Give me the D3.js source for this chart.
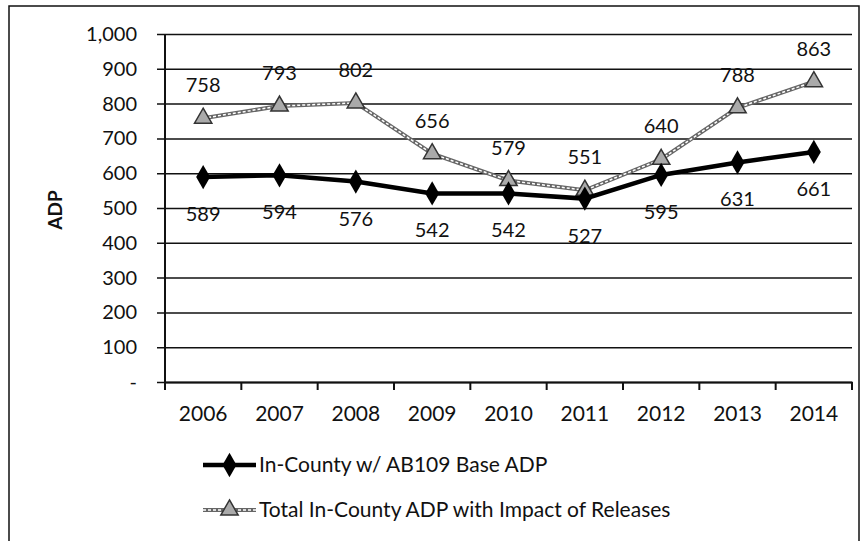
<!DOCTYPE html>
<html lang="en">
<head>
    <meta charset="utf-8">
    <title>ADP</title>
    <script src="https://d3js.org/d3.v7.min.js"></script>
    <style>
        body { margin: 0; background: #fff; }
        text { font-family: Lato, "Open Sans", sans-serif; fill: #111; }
    </style>
</head>
<body>
    <div id="chart"></div>
    <script>
        const years = ["2006", "2007", "2008", "2009", "2010", "2011", "2012", "2013", "2014"];
        const baseADP = [589, 594, 576, 542, 542, 527, 595, 631, 661];
        const totalADP = [758, 793, 802, 656, 579, 551, 640, 788, 863];
        const yTicks = [0, 100, 200, 300, 400, 500, 600, 700, 800, 900, 1000];
        const seriesNames = ["In-County w/ AB109 Base ADP", "Total In-County ADP with Impact of Releases"];

        const w = 867;
        const h = 541;
        const plot = { left: 165, right: 852, top: 34, bottom: 382 };

        const svg = d3.select("#chart").append("svg")
            .attr("width", w)
            .attr("height", h);

        // outer frame
        svg.append("rect")
            .attr("x", 9).attr("y", 6)
            .attr("width", 850).attr("height", 545)
            .attr("fill", "none")
            .attr("stroke", "#111")
            .attr("stroke-width", 1.5);

        const xScale = d3.scaleBand()
            .domain(years)
            .range([plot.left, plot.right]);

        const yScale = d3.scaleLinear()
            .domain([0, 1000])
            .range([plot.bottom, plot.top]);

        const cx = d => xScale(d) + xScale.bandwidth() / 2;

        // gridlines + y axis
        const yAxis = d3.axisLeft(yScale)
            .tickValues(yTicks)
            .tickSize(-(plot.right - plot.left))
            .tickPadding(28)
            .tickFormat(d => d === 0 ? "-" : d3.format(",")(d));

        const yg = svg.append("g")
            .attr("transform", `translate(${plot.left},0)`)
            .call(yAxis);
        yg.select(".domain").remove();
        yg.selectAll(".tick line")
            .attr("x1", -8)
            .attr("stroke", "#111")
            .attr("stroke-width", 1.5);
        yg.selectAll(".tick text")
            .style("font-size", "20px")
            .style("font-family", "Lato, sans-serif")
            .attr("fill", "#111");

        // vertical axis line
        svg.append("line")
            .attr("x1", plot.left).attr("x2", plot.left)
            .attr("y1", plot.top).attr("y2", plot.bottom)
            .attr("stroke", "#111").attr("stroke-width", 2);

        // x axis
        const xAxis = d3.axisBottom(xScale).tickSize(0).tickPadding(24);
        const xg = svg.append("g")
            .attr("transform", `translate(0,${plot.bottom})`)
            .call(xAxis);
        xg.select(".domain")
            .attr("stroke", "#111").attr("stroke-width", 2);
        xg.selectAll(".tick text")
            .style("font-size", "21px")
            .style("font-family", "Lato, sans-serif")
            .attr("fill", "#111");

        // tick marks between categories
        const bounds = years.map(d => xScale(d)).concat([plot.right]);
        svg.selectAll("line.xtick")
            .data(bounds)
            .enter().append("line")
            .attr("class", "xtick")
            .attr("x1", d => d).attr("x2", d => d)
            .attr("y1", plot.bottom).attr("y2", plot.bottom + 8)
            .attr("stroke", "#111").attr("stroke-width", 2);

        // y axis title
        svg.append("text")
            .attr("transform", "translate(62,210) rotate(-90)")
            .attr("text-anchor", "middle")
            .style("font-size", "19px")
            .style("font-weight", "bold")
            .text("ADP");

        const line = d3.line()
            .x((d, i) => cx(years[i]))
            .y(d => yScale(d));

        // total series: textured gray line with triangles
        svg.append("path")
            .datum(totalADP)
            .attr("d", line)
            .attr("fill", "none")
            .attr("stroke", "#666")
            .attr("stroke-width", 4);
        svg.append("path")
            .datum(totalADP)
            .attr("d", line)
            .attr("fill", "none")
            .attr("stroke", "#fff")
            .attr("stroke-width", 1.5)
            .attr("stroke-dasharray", "3,2");

        const tri = d3.symbol().type(d3.symbolTriangle).size(130);
        svg.selectAll("path.tri")
            .data(totalADP)
            .enter().append("path")
            .attr("class", "tri")
            .attr("d", tri)
            .attr("transform", (d, i) => `translate(${cx(years[i])},${yScale(d)})`)
            .attr("fill", "#aaa")
            .attr("stroke", "#333")
            .attr("stroke-width", 1.5);

        // base series: thick black line with diamonds
        svg.append("path")
            .datum(baseADP)
            .attr("d", line)
            .attr("fill", "none")
            .attr("stroke", "#000")
            .attr("stroke-width", 4.5);

        const diamond = d3.symbol().type(d3.symbolDiamond).size(170);
        svg.selectAll("path.dia")
            .data(baseADP)
            .enter().append("path")
            .attr("class", "dia")
            .attr("d", diamond)
            .attr("transform", (d, i) => `translate(${cx(years[i])},${yScale(d)})`)
            .attr("fill", "#000");

        // data labels
        svg.selectAll("text.tlab")
            .data(totalADP)
            .enter().append("text")
            .attr("class", "tlab")
            .attr("x", (d, i) => cx(years[i]))
            .attr("y", d => yScale(d) - 26)
            .attr("text-anchor", "middle")
            .style("font-size", "20px")
            .text(d => d);

        svg.selectAll("text.blab")
            .data(baseADP)
            .enter().append("text")
            .attr("class", "blab")
            .attr("x", (d, i) => cx(years[i]))
            .attr("y", d => yScale(d) + 44)
            .attr("text-anchor", "middle")
            .style("font-size", "20px")
            .text(d => d);

        // legend
        const lg = svg.append("g");
        const ly = [465, 510];
        const lx0 = 203, lx1 = 256;
        const lmid = (lx0 + lx1) / 2;

        lg.append("line")
            .attr("x1", lx0).attr("x2", lx1)
            .attr("y1", ly[0]).attr("y2", ly[0])
            .attr("stroke", "#000").attr("stroke-width", 4.5);
        lg.append("path")
            .attr("d", diamond)
            .attr("transform", `translate(${lmid},${ly[0]})`)
            .attr("fill", "#000");

        lg.append("line")
            .attr("x1", lx0).attr("x2", lx1)
            .attr("y1", ly[1]).attr("y2", ly[1])
            .attr("stroke", "#666").attr("stroke-width", 4);
        lg.append("line")
            .attr("x1", lx0).attr("x2", lx1)
            .attr("y1", ly[1]).attr("y2", ly[1])
            .attr("stroke", "#fff").attr("stroke-width", 1.5)
            .attr("stroke-dasharray", "3,2");
        lg.append("path")
            .attr("d", tri)
            .attr("transform", `translate(${lmid},${ly[1]})`)
            .attr("fill", "#aaa")
            .attr("stroke", "#333")
            .attr("stroke-width", 1.5);

        lg.selectAll("text.leg")
            .data(seriesNames)
            .enter().append("text")
            .attr("class", "leg")
            .attr("x", lx1 + 3)
            .attr("y", (d, i) => ly[i])
            .attr("dy", "0.35em")
            .style("font-size", "21px")
            .text(d => d);
    </script>
</body>
</html>
